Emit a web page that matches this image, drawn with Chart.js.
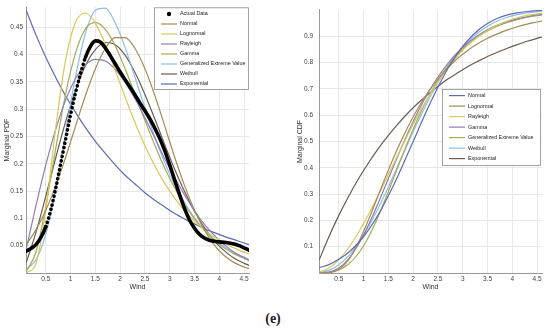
<!DOCTYPE html>
<html>
<head>
<meta charset="utf-8">
<script src="https://cdn.jsdelivr.net/npm/chart.js@4.4.0/dist/chart.umd.min.js"></script>
<style>
body { margin:0; width:550px; height:333px; background:#fff; position:relative; overflow:hidden; }
#pdfBox { position:absolute; left:0; top:0; }
#cdfBox { position:absolute; left:280px; top:0; }
#tag { position:absolute; left:0; width:546px; top:310px; line-height:18px; text-align:center; font-weight:bold; font-size:14px; font-family:"Liberation Serif", "DejaVu Serif", serif; color:#222; }
</style>
</head>
<body>
<div id="pdfBox"><canvas id="pdf" width="262" height="300"></canvas></div>
<div id="cdfBox"><canvas id="cdf" width="270" height="300"></canvas></div>
<div id="tag">(e)</div>
<script>
// ticks
var windTicks = [0.5, 1, 1.5, 2, 2.5, 3, 3.5, 4, 4.5];
var pdfTicks = [0.05, 0.1, 0.15, 0.2, 0.25, 0.3, 0.35, 0.4, 0.45];
var cdfTicks = [0.1, 0.2, 0.3, 0.4, 0.5, 0.6, 0.7, 0.8, 0.9];

// actual data (marginal pdf of wind)
var actualX = [0.1,0.2,0.3,0.4,0.5,0.6,0.7,0.8,0.9,1.0,1.1,1.2,1.3,1.4,1.5,1.6,1.7,1.8,1.9,2.0,2.1,2.2,2.3,
               2.4,2.5,2.6,2.7,2.8,2.9,3.0,3.1,3.2,3.3,3.4,3.5,3.6,3.7,3.8,3.9,4.0,4.1,4.2,4.3,4.4,4.5,4.6];
var actualPdf = [0.040,0.045,0.052,0.065,0.085,0.115,0.155,0.200,0.245,0.290,0.330,0.365,0.395,0.415,0.425,0.423,
                 0.412,0.398,0.383,0.368,0.354,0.340,0.326,0.311,0.297,0.282,0.265,0.246,0.224,0.198,0.170,0.143,
                 0.118,0.097,0.082,0.071,0.064,0.060,0.058,0.057,0.056,0.055,0.053,0.050,0.046,0.042];

// fitted distributions
var fitX = [0.1,0.3,0.5,0.7,0.9,1.1,1.3,1.5,1.7,1.9,2.1,2.3,2.5,2.7,2.9,3.1,3.3,3.5,3.7,3.9,4.1,4.3,4.5,4.6];
var pdfNormal = [0.051,0.079,0.115,0.160,0.212,0.269,0.325,0.374,0.411,0.431,0.431,0.411,0.374,0.325,0.269,0.212,0.160,0.115,0.079,0.051,0.032,0.019,0.011,0.008];
var pdfLognormal = [0.000,0.017,0.116,0.266,0.390,0.459,0.476,0.457,0.419,0.371,0.322,0.275,0.233,0.196,0.164,0.137,0.114,0.095,0.079,0.066,0.055,0.046,0.038,0.035];
var pdfRayleigh = [0.042,0.123,0.198,0.263,0.317,0.356,0.381,0.391,0.388,0.373,0.349,0.319,0.284,0.247,0.209,0.175,0.143,0.114,0.089,0.069,0.052,0.038,0.028,0.023];
var pdfGamma = [0.002,0.038,0.122,0.228,0.328,0.403,0.447,0.459,0.446,0.416,0.374,0.327,0.279,0.234,0.192,0.156,0.125,0.099,0.078,0.060,0.046,0.035,0.027,0.023];
var pdfGev = [0.006,0.024,0.071,0.152,0.257,0.360,0.439,0.481,0.485,0.458,0.413,0.358,0.302,0.249,0.202,0.162,0.129,0.101,0.079,0.062,0.048,0.037,0.029,0.025];
var pdfWeibull = [0.018,0.074,0.141,0.211,0.277,0.334,0.380,0.409,0.422,0.418,0.399,0.367,0.327,0.282,0.235,0.190,0.149,0.113,0.083,0.059,0.041,0.027,0.018,0.014];
var pdfExponential = [0.482,0.436,0.395,0.358,0.324,0.294,0.266,0.241,0.219,0.198,0.179,0.163,0.147,0.133,0.121,0.109,0.099,0.090,0.081,0.074,0.067,0.061,0.055,0.052];

var cdfNormal = [0.020,0.032,0.052,0.079,0.116,0.164,0.223,0.294,0.372,0.457,0.543,0.628,0.706,0.777,0.836,0.884,0.921,0.948,0.968,0.981,0.989,0.994,0.997,0.998];
var cdfLognormal = [0.000,0.001,0.013,0.051,0.117,0.203,0.297,0.391,0.479,0.558,0.627,0.687,0.737,0.780,0.816,0.846,0.871,0.892,0.909,0.924,0.936,0.946,0.954,0.958];
var cdfRayleigh = [0.002,0.019,0.051,0.097,0.155,0.223,0.297,0.374,0.452,0.528,0.601,0.667,0.728,0.781,0.826,0.865,0.896,0.922,0.942,0.958,0.970,0.979,0.985,0.988];
var cdfGamma = [0.000,0.003,0.019,0.054,0.110,0.183,0.268,0.359,0.449,0.535,0.614,0.684,0.745,0.796,0.839,0.874,0.902,0.924,0.942,0.955,0.966,0.974,0.981,0.983];
var cdfGev = [0.001,0.003,0.012,0.034,0.075,0.137,0.217,0.310,0.407,0.502,0.589,0.666,0.732,0.787,0.832,0.869,0.898,0.920,0.938,0.952,0.963,0.972,0.978,0.981];
var cdfWeibull = [0.001,0.010,0.031,0.066,0.115,0.177,0.248,0.327,0.411,0.495,0.577,0.653,0.723,0.784,0.836,0.878,0.912,0.938,0.958,0.972,0.982,0.989,0.993,0.995];
var cdfExponential = [0.048,0.138,0.219,0.292,0.359,0.419,0.474,0.523,0.568,0.609,0.646,0.679,0.709,0.737,0.761,0.784,0.804,0.823,0.839,0.854,0.868,0.881,0.892,0.897];

var fitNames = ['Normal', 'Lognormal', 'Rayleigh', 'Gamma', 'Generalized Extreme Value', 'Weibull', 'Exponential'];
// colours in the order they show on the left (pdf) panel
var pdfColors = ['#a38d55', '#d9c957', '#8e7bb8', '#a0ae55', '#8fbde8', '#6b5b52', '#5b6bb5'];
var cdfColors = ['#5b6bb5', '#a38d55', '#d9c957', '#8e7bb8', '#a0ae55', '#8fbde8', '#6b5b52'];

var FONT = '"Liberation Sans", Arial, sans-serif';

function pts(xs, ys) {
  return xs.map(function (x, i) { return {x: x, y: ys[i]}; });
}

function fitSets(lists, colors) {
  return lists.map(function (ys, i) {
    return {
      label: fitNames[i], data: pts(fitX, ys), borderColor: colors[i],
      borderWidth: 1.2, pointRadius: 0, cubicInterpolationMode: 'monotone', fill: false
    };
  });
}

// legend in a box, drawn inside the plot
var boxLegend = {
  id: 'boxLegend',
  afterDraw: function (chart, args, o) {
    var ctx = chart.ctx, a = chart.chartArea, sets = chart.data.datasets;
    var h = o.first + (sets.length - 1) * o.row + o.last;
    var left = a.right - o.right - o.width, top = a.top + o.top;
    ctx.save();
    ctx.fillStyle = '#fff';
    ctx.fillRect(left, top, o.width, h);
    ctx.strokeStyle = '#8c8c8c';
    ctx.lineWidth = 0.8;
    ctx.strokeRect(left + 0.5, top + 0.5, o.width - 1, h - 1);
    ctx.font = '5.4px ' + FONT;
    ctx.textBaseline = 'middle';
    sets.forEach(function (ds, i) {
      var y = top + o.first + i * o.row;
      if (ds.legendDot) {
        ctx.fillStyle = '#000';
        ctx.beginPath();
        ctx.arc(left + 15, y, 2.2, 0, Math.PI * 2);
        ctx.fill();
      } else {
        ctx.strokeStyle = ds.borderColor;
        ctx.lineWidth = 1.2;
        ctx.beginPath();
        ctx.moveTo(left + 7, y);
        ctx.lineTo(left + 23, y);
        ctx.stroke();
      }
      ctx.fillStyle = '#222';
      ctx.fillText(ds.label, left + 26, y);
    });
    ctx.restore();
  }
};

function makeChart(id, datasets, yTicks, yMax, yTitle, yWidth, titlePad, tickPad, padRight, legendOpts) {
  return new Chart(document.getElementById(id), {
    type: 'line',
    data: {datasets: datasets},
    plugins: [boxLegend],
    options: {
      responsive: false, animation: false, devicePixelRatio: 1,
      layout: {padding: {top: 7, right: padRight, left: 0, bottom: 0}},
      plugins: {legend: {display: false}, tooltip: {enabled: false}, boxLegend: legendOpts},
      scales: {
        x: {
          type: 'linear', min: 0.1, max: 4.6,
          afterBuildTicks: function (s) { s.ticks = windTicks.map(function (v) { return {value: v}; }); },
          afterFit: function (s) { s.height = 27; },
          grid: {color: '#e8e8e8', drawTicks: false},
          border: {color: '#9a9a9a'},
          ticks: {padding: 2, color: '#444', font: {family: FONT, size: 6.5}, maxRotation: 0,
                  callback: function (v) { return String(+v.toFixed(2)); }},
          title: {display: true, text: 'Wind', color: '#333', font: {family: FONT, size: 7}, padding: {top: 0, bottom: 9}}
        },
        y: {
          type: 'linear', min: 0, max: yMax,
          afterBuildTicks: function (s) { s.ticks = yTicks.map(function (v) { return {value: v}; }); },
          afterFit: function (s) { s.width = yWidth; },
          grid: {color: '#e8e8e8', drawTicks: false},
          border: {color: '#9a9a9a'},
          ticks: {padding: tickPad, color: '#444', font: {family: FONT, size: 6.5},
                  callback: function (v) { return String(+v.toFixed(3)); }},
          title: {display: true, text: yTitle, color: '#333', font: {family: FONT, size: 7}, padding: {top: titlePad, bottom: 0}}
        }
      }
    }
  });
}

var actualSet = {
  label: 'Actual Data', legendDot: true, data: pts(actualX, actualPdf),
  borderColor: '#000', borderWidth: 3.6, borderCapStyle: 'round', pointRadius: 0,
  cubicInterpolationMode: 'monotone', fill: false,
  segment: {
    borderDash: function (c) { return (c.p1.parsed.y - c.p0.parsed.y) > 0.025 ? [0.1, 4.4] : undefined; }
  }
};

makeChart('pdf',
  [actualSet].concat(fitSets([pdfNormal, pdfLognormal, pdfRayleigh, pdfGamma, pdfGev, pdfWeibull, pdfExponential], pdfColors)),
  pdfTicks, 0.487, 'Marginal PDF', 26, 2.8, 3, 13,
  {width: 95, right: 0, top: 0.3, first: 6.7, row: 10, last: 6});

makeChart('cdf',
  fitSets([cdfNormal, cdfLognormal, cdfRayleigh, cdfGamma, cdfGev, cdfWeibull, cdfExponential], cdfColors),
  cdfTicks, 1.0, 'Marginal CDF', 39, 15.8, 6, 8,
  {width: 99, right: 1, top: 79, first: 6.7, row: 10.5, last: 7.3});
</script>
</body>
</html>
